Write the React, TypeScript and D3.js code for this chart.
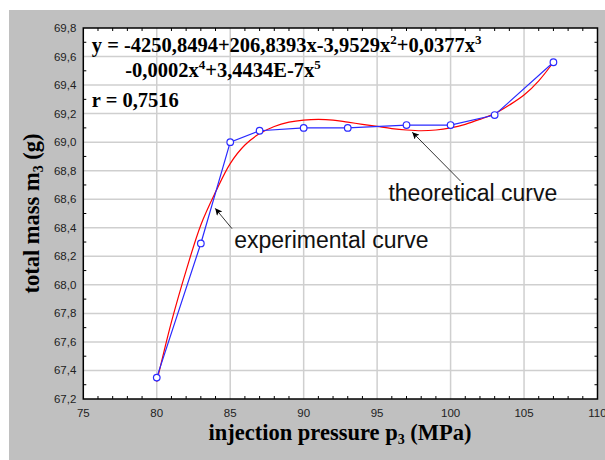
import React from 'react'
import * as d3 from 'd3'

// experimental points (blue)
const pressure = [80, 83, 85, 87, 90, 93, 97, 100, 103, 107]
const massExp = [67.35, 68.29, 69.0, 69.08, 69.1, 69.1, 69.12, 69.12, 69.19, 69.56]

// theoretical curve (red)
const theoX = [80, 81, 82, 83, 84, 85, 86, 87, 88, 89, 90, 91, 92, 93, 94, 95, 96, 97, 98, 99, 100, 101, 102, 103, 104, 105, 106, 107]
const theoY = [67.32, 67.74, 68.1, 68.42, 68.65, 68.85, 68.98, 69.06, 69.11, 69.14, 69.155, 69.16, 69.155, 69.14, 69.125, 69.11, 69.095, 69.085, 69.08, 69.085, 69.1, 69.125, 69.16, 69.2, 69.26, 69.33, 69.43, 69.56]

const xTicks = [75, 80, 85, 90, 95, 100, 105, 110]
const yTicks = [67.2, 67.4, 67.6, 67.8, 68.0, 68.2, 68.4, 68.6, 68.8, 69.0, 69.2, 69.4, 69.6, 69.8]

const W = 605
const H = 460
const left = 83.3
const right = 597.5
const top = 28
const bottom = 399

const fmt = (v: number) => v.toFixed(1).replace('.', ',')

export default function App() {
  const x = d3.scaleLinear().domain([75, 110]).range([left, right])
  const y = d3.scaleLinear().domain([67.2, 69.8]).range([bottom, top])

  const expLine = d3.line<number>()
    .x((_, i) => x(pressure[i]))
    .y(d => y(d))
  const theoLine = d3.line<number>()
    .x((_, i) => x(theoX[i]))
    .y(d => y(d))
    .curve(d3.curveCatmullRom)

  const xMinor = d3.range(76, 110, 1).filter(v => v % 5 !== 0)
  const yMinor = d3.range(0, 13).map(i => 67.3 + i * 0.2)

  const serif = '"Liberation Serif", "Times New Roman", serif'
  const sans = '"Liberation Sans", Arial, sans-serif'

  return (
    <div style={{ position: 'absolute', left: 0, top: 0 }}>
      <svg width={W} height={H} style={{ display: 'block', background: '#fff' }}>
        <defs>
          <marker id="arr" viewBox="0 0 10 10" refX="10" refY="5" markerWidth="10" markerHeight="7"
            markerUnits="userSpaceOnUse" orient="auto">
            <path d="M0,0 L10,5 L0,10 L2.5,5 z" fill="#000" />
          </marker>
        </defs>
        <rect x={9} y={10} width={W - 9} height={H - 10} fill="#c0c0c0" />
        <rect x={left} y={top} width={right - left} height={bottom - top} fill="#fff" />

        {/* grid */}
        {xTicks.slice(1, -1).map(t => (
          <line key={'gx' + t} x1={x(t)} x2={x(t)} y1={top} y2={bottom} stroke="#cfcfcf" strokeWidth={1.5} />
        ))}
        {yTicks.slice(1, -1).map(t => (
          <line key={'gy' + t} x1={left} x2={right} y1={y(t)} y2={y(t)} stroke="#cfcfcf" strokeWidth={1.5} />
        ))}

        {/* minor ticks, all four sides */}
        {xMinor.map(t => (
          <g key={'mx' + t} stroke="#000" strokeWidth={1}>
            <line x1={x(t)} x2={x(t)} y1={bottom} y2={bottom - 3} />
            <line x1={x(t)} x2={x(t)} y1={top} y2={top + 3} />
          </g>
        ))}
        {yMinor.map(t => (
          <g key={'my' + t} stroke="#000" strokeWidth={1}>
            <line x1={left} x2={left + 3} y1={y(t)} y2={y(t)} />
            <line x1={right} x2={right - 3} y1={y(t)} y2={y(t)} />
          </g>
        ))}

        {/* curves */}
        <path d={theoLine(theoY) || ''} fill="none" stroke="#ff0000" strokeWidth={1.2} />
        <path d={expLine(massExp) || ''} fill="none" stroke="#2a2aff" strokeWidth={1.2} />
        {massExp.map((v, i) => (
          <circle key={'p' + i} cx={x(pressure[i])} cy={y(v)} r={3.3} fill="#fff" stroke="#2a2aff" strokeWidth={1.2} />
        ))}

        {/* frame */}
        <rect x={left} y={top} width={right - left} height={bottom - top} fill="none" stroke="#000" strokeWidth={1.5} />

        {/* tick labels */}
        {xTicks.map(t => (
          <text key={'tx' + t} x={x(t)} y={bottom + 18} textAnchor="middle" fontFamily={sans} fontSize={11.5} fill="#222">
            {t}
          </text>
        ))}
        {yTicks.map(t => (
          <text key={'ty' + t} x={left - 7} y={y(t)} dy="0.35em" textAnchor="end" fontFamily={sans} fontSize={11.5} fill="#222">
            {fmt(t)}
          </text>
        ))}

        {/* axis titles */}
        <text x={340} y={440} textAnchor="middle" fontFamily={serif} fontWeight="bold" fontSize={22.5} fill="#000">
          injection pressure p<tspan fontSize={14} dy={4}>3</tspan><tspan dy={-4}> (MPa)</tspan>
        </text>
        <text transform={`translate(39,${(top + bottom) / 2}) rotate(-90)`} textAnchor="middle" fontFamily={serif} fontWeight="bold" fontSize={22.5} fill="#000">
          total mass m<tspan fontSize={14} dy={4}>3</tspan><tspan dy={-4}> (g)</tspan>
        </text>

        {/* regression equation */}
        <g fontFamily={serif} fontWeight="bold" fontSize={20.5} fill="#000">
          <text x={left + 8.5} y={52}>
            y = -4250,8494+206,8393x-3,9529x<tspan fontSize={13} dy={-8}>2</tspan><tspan dy={8}>+0,0377x</tspan><tspan fontSize={13} dy={-8}>3</tspan>
          </text>
          <text x={left + 42} y={77}>
            -0,0002x<tspan fontSize={13} dy={-8}>4</tspan><tspan dy={8}>+3,4434E-7x</tspan><tspan fontSize={13} dy={-8}>5</tspan>
          </text>
          <text x={left + 8.5} y={107}>r = 0,7516</text>
        </g>

        {/* annotations */}
        <line x1={x(85.12)} y1={y(68.394)} x2={x(83.98)} y2={y(68.536)} stroke="#000" strokeWidth={0.8} markerEnd="url(#arr)" />
        <text x={x(85.27)} y={y(68.26)} fontFamily={sans} fontSize={23} fill="#111">experimental curve</text>
        <line x1={x(100.68)} y1={y(68.727)} x2={x(97.39)} y2={y(69.07)} stroke="#000" strokeWidth={0.8} markerEnd="url(#arr)" />
        <text x={x(95.77)} y={y(68.59)} fontFamily={sans} fontSize={23} fill="#111">theoretical curve</text>
      </svg>
    </div>
  )
}
